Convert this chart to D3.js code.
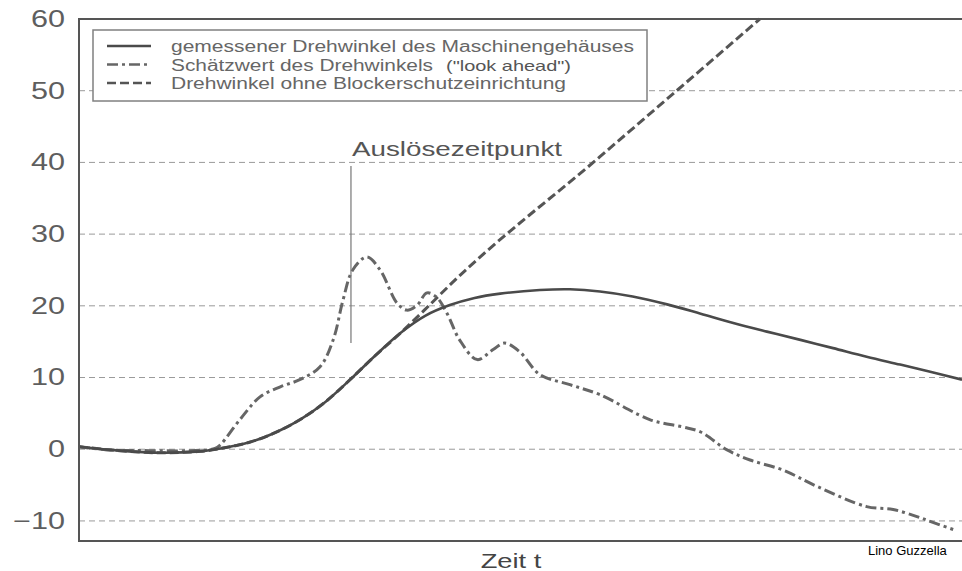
<!DOCTYPE html>
<html>
<head>
<meta charset="utf-8">
<script src="https://cdn.jsdelivr.net/npm/d3@7"></script>
<style>
  body { margin: 0; background: #fff; }
  text { font-family: "Liberation Sans", Arial, Helvetica, sans-serif; }
</style>
</head>
<body>
<script>
'use strict';

// chart size
let width = 962,
  height = 571

// time axis (relative, no ticks) and angle values
const yTicks = [-10, 0, 10, 20, 30, 40, 50, 60];

// gemessener Drehwinkel des Maschinengehäuses
const measT = [0, 4.6, 9.2, 13.7, 16.0, 19.4, 22.2, 25.0, 27.9, 30.7, 33.5, 36.4, 39.2, 42.0, 44.8, 47.7,
  52.2, 55.6, 59.0, 62.7, 66.6, 70.4, 74.1, 77.9, 81.7, 85.4, 89.2, 93.0, 96.4, 100];
const measV = [0.35, -0.2, -0.5, -0.3, 0.1, 1.0, 2.3, 4.1, 6.6, 9.7, 13.0, 16.2, 18.6, 20.1, 21.1, 21.7,
  22.2, 22.3, 22.0, 21.3, 20.2, 18.9, 17.6, 16.4, 15.25, 14.1, 12.9, 11.8, 10.8, 9.7];

// Schätzwert des Drehwinkels ("look ahead")
const estT = [0, 3.5, 8.0, 12.6, 15.4, 16.0, 18.2, 20.5, 22.8, 25.0, 27.3, 28.8, 29.9, 31.0, 32.6, 34.1,
  36.0, 37.1, 38.3, 39.4, 40.5, 41.7, 43.1, 45.1, 46.9, 48.2, 49.9, 52.2, 55.6, 59.0, 64.7, 68.4, 70.4,
  73.4, 76.0, 79.7, 83.6, 89.2, 92.2, 94.9, 96.7, 99.0];
const estV = [0.35, -0.1, -0.2, -0.2, 0.1, 0.6, 4.1, 7.3, 8.7, 9.7, 11.5, 15.3, 20.8, 25.0, 26.8, 25.0,
  20.4, 19.4, 20.1, 21.8, 21.2, 18.9, 15.25, 12.5, 13.9, 14.8, 13.6, 10.4, 9.0, 7.6, 4.1, 3.1, 2.4,
  -0.1, -1.5, -2.9, -5.2, -8.0, -8.4, -9.4, -10.2, -11.2];

// Drehwinkel ohne Blockerschutzeinrichtung
const freeT = [0, 4.6, 9.2, 13.7, 16.0, 19.4, 22.2, 25.0, 27.9, 30.7, 33.5, 36.4, 39.2, 42.0, 59.0, 77.1];
const freeV = [0.35, -0.2, -0.5, -0.3, 0.1, 1.0, 2.3, 4.1, 6.6, 9.7, 13.0, 16.2, 19.5, 22.9, 40.8, 60.0];

// trigger instant
const triggerT = 30.8;
const triggerRange = [14.8, 39.5];

const legendLabels = [
  "gemessener Drehwinkel des Maschinengehäuses",
  "Schätzwert des Drehwinkels",
  "Drehwinkel ohne Blockerschutzeinrichtung"
];

window.onload = function () {
  let svg = d3.select("body")
    .append("svg")
    .attr("width", width)
    .attr("height", height);

  let x = d3.scaleLinear().domain([0, 100]).range([79, 962]);
  let y = d3.scaleLinear().domain([-12.8, 60]).range([541, 19]);

  drawGrid(svg, x, y);
  drawSeries(svg, x, y);
  drawFrame(svg, x, y);
  drawTrigger(svg, x, y);
  drawLegend(svg);

  // axis title and credit
  stretch(svg.append("text")
    .attr("x", 511)
    .attr("y", 568)
    .attr("text-anchor", "middle")
    .attr("font-size", 21)
    .attr("fill", "#444")
    .text("Zeit t"), 1.3);

  svg.append("text")
    .attr("x", 868)
    .attr("y", 555)
    .attr("font-size", 13)
    .attr("fill", "#000")
    .text("Lino Guzzella");
}

// widen text like the scanned typeface
function stretch(sel, k) {
  sel.each(function () {
    let w = this.getComputedTextLength();
    d3.select(this)
      .attr("textLength", w * k)
      .attr("lengthAdjust", "spacingAndGlyphs");
  });
  return sel;
}

function drawGrid(svg, x, y) {
  svg.append("g")
    .selectAll("line")
    .data(yTicks.filter(d => d < 60))
    .join("line")
    .attr("x1", x(0))
    .attr("x2", x(100))
    .attr("y1", d => y(d))
    .attr("y2", d => y(d))
    .attr("stroke", "#9a9a9a")
    .attr("stroke-width", 1)
    .attr("stroke-dasharray", "6,4");
}

function drawSeries(svg, x, y) {
  let line = d3.line()
    .x(d => x(d[0]))
    .y(d => y(d[1]))
    .curve(d3.curveCatmullRom.alpha(0.5));

  let g = svg.append("g").attr("fill", "none").attr("stroke-linecap", "butt");

  g.append("path")
    .attr("d", line.curve(d3.curveMonotoneX)(d3.zip(freeT, freeV)))
    .attr("stroke", "#555")
    .attr("stroke-width", 3)
    .attr("stroke-dasharray", "9,4");

  line.curve(d3.curveCatmullRom.alpha(0.5));

  g.append("path")
    .attr("d", line(d3.zip(estT, estV)))
    .attr("stroke", "#666")
    .attr("stroke-width", 3)
    .attr("stroke-dasharray", "11,4,3,4");

  g.append("path")
    .attr("d", line(d3.zip(measT, measV)))
    .attr("stroke", "#4a4a4a")
    .attr("stroke-width", 2.6);
}

function drawFrame(svg, x, y) {
  let axis = svg.append("g")
    .attr("transform", "translate(" + x(0) + ",0)")
    .call(d3.axisLeft(y)
      .tickValues(yTicks)
      .tickSize(0)
      .tickPadding(14)
      .tickFormat(d => d < 0 ? "\u2212" + Math.abs(d) : d));
  axis.select(".domain").remove();
  let labels = axis.selectAll("text")
    .attr("font-size", 23)
    .attr("font-family", "Liberation Sans, Arial, sans-serif")
    .attr("fill", "#5e5e5e");
  stretch(labels, 1.33);

  let frame = svg.append("g")
    .attr("stroke", "#555")
    .attr("stroke-width", 2)
    .attr("fill", "none");
  frame.append("path")
    .attr("d", "M" + x(100) + "," + y(60) + "H" + x(0) + "V" + y(-12.8) + "H" + x(100));
}

function drawTrigger(svg, x, y) {
  svg.append("line")
    .attr("x1", x(triggerT))
    .attr("x2", x(triggerT))
    .attr("y1", y(triggerRange[1]))
    .attr("y2", y(triggerRange[0]))
    .attr("stroke", "#777")
    .attr("stroke-width", 1.2);

  svg.append("text")
    .attr("x", 352)
    .attr("y", 156)
    .attr("font-size", 20)
    .attr("fill", "#555")
    .attr("textLength", 210)
    .attr("lengthAdjust", "spacingAndGlyphs")
    .text("Auslösezeitpunkt");
}

function drawLegend(svg) {
  let g = svg.append("g");
  g.append("rect")
    .attr("x", 93)
    .attr("y", 30)
    .attr("width", 554)
    .attr("height", 71)
    .attr("fill", "#fff")
    .attr("stroke", "#808080")
    .attr("stroke-width", 1.5);

  let rows = [
    { y: 52, dash: null, color: "#4a4a4a", len: 463 },
    { y: 70.5, dash: "11,4,3,4", color: "#666", len: 262 },
    { y: 89, dash: "9,4", color: "#555", len: 395 }
  ];

  rows.forEach((r, i) => {
    g.append("line")
      .attr("x1", 107)
      .attr("x2", 151)
      .attr("y1", r.y - 6)
      .attr("y2", r.y - 6)
      .attr("stroke", r.color)
      .attr("stroke-width", 2.6)
      .attr("stroke-dasharray", r.dash);

    g.append("text")
      .attr("x", 171)
      .attr("y", r.y)
      .attr("font-size", 16)
      .attr("fill", "#666")
      .attr("textLength", r.len)
      .attr("lengthAdjust", "spacingAndGlyphs")
      .text(legendLabels[i]);
  });

  g.append("text")
    .attr("x", 446)
    .attr("y", 70.5)
    .attr("font-size", 15)
    .attr("fill", "#555")
    .attr("textLength", 125)
    .attr("lengthAdjust", "spacingAndGlyphs")
    .text("(\"look ahead\")");
}
</script>
</body>
</html>
